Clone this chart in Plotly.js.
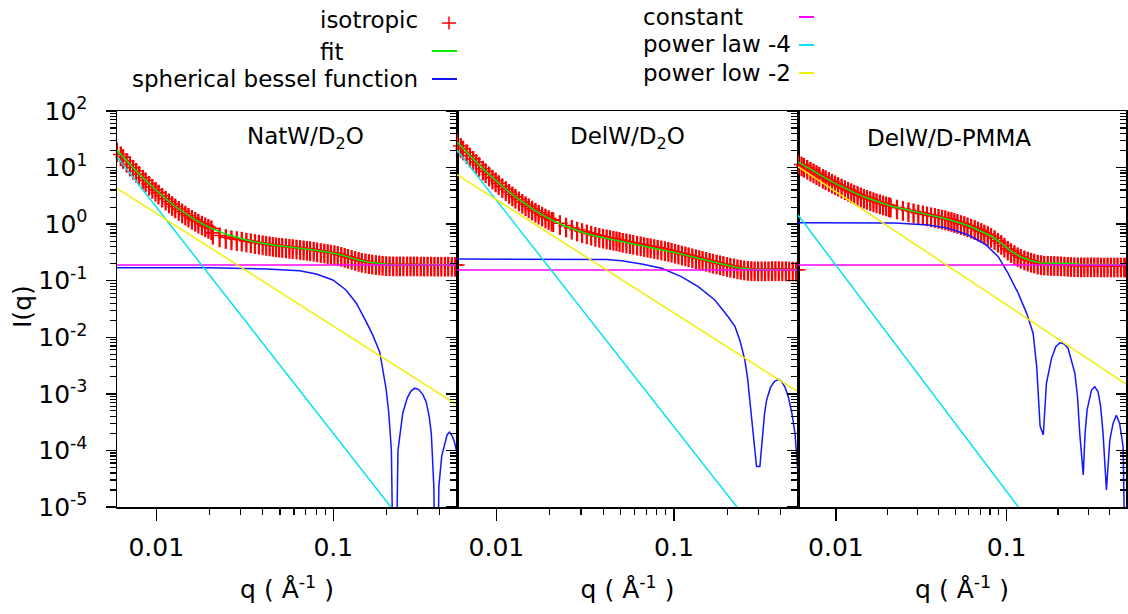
<!DOCTYPE html>
<html><head><meta charset="utf-8">
<script src="https://cdn.plot.ly/plotly-3.0.1.min.js"></script>
<style>html,body{margin:0;padding:0;background:#fff}#chart{width:1128px;height:614px}</style>
</head><body><div id="chart"></div>
<script>
// ---------------- data ----------------
const panelTitles = ['NatW/D<sub>2</sub>O', 'DelW/D<sub>2</sub>O', 'DelW/D-PMMA'];
const legendLabels = ['isotropic', 'fit', 'spherical bessel function', 'constant', 'power law -4', 'power low -2'];
const xTitle = 'q ( Å<sup>-1</sup> )';
const yTitle = 'I(q)';

// q grid of the measured (isotropic) points, shared by the three samples
const qIso = [0.0060, 0.0063, 0.0065, 0.0068, 0.0071, 0.0074, 0.0077, 0.0080, 0.0084, 0.0087, 0.0091, 0.0095, 0.0099, 0.0103, 0.0108, 0.0113, 0.0118, 0.0123, 0.0128, 0.0134, 0.0140, 0.0146, 0.0152, 0.0159, 0.0166, 0.0173, 0.0181, 0.0189, 0.0197, 0.0205,
  0.0209, 0.0228, 0.0247, 0.0266, 0.0285, 0.0304, 0.0323, 0.0342, 0.0361, 0.0380, 0.0399, 0.0418, 0.0437, 0.0456, 0.0475, 0.0494,
  0.0515, 0.0540, 0.0565, 0.0590, 0.0620, 0.0650, 0.0680, 0.0710, 0.0740, 0.0775, 0.0810, 0.0850, 0.0890, 0.0930, 0.0970, 0.1015, 0.1060, 0.1110, 0.1160, 0.1210, 0.1270, 0.1330, 0.1390, 0.1450, 0.1520, 0.1590, 0.1660, 0.1740, 0.1820, 0.1900, 0.1990, 0.2080, 0.2180, 0.2280, 0.2380, 0.2490, 0.2610, 0.2730, 0.2850, 0.2980, 0.3120, 0.3260, 0.3410, 0.3570, 0.3730, 0.3900, 0.4080, 0.4270, 0.4460, 0.4670, 0.4880, 0.5000];

const isoNatD2O = [20.2, 17.0, 15.3, 13.1, 11.3, 9.90, 8.70, 7.69, 6.59, 5.92, 5.16, 4.55, 4.03, 3.61, 3.17, 2.81, 2.51, 2.26, 2.05, 1.85, 1.67, 1.53, 1.41, 1.29, 1.19, 1.10, 1.02, 0.95, 0.89, 0.84,
  0.70, 0.63, 0.59, 0.56, 0.54, 0.53, 0.51, 0.495, 0.48, 0.468, 0.455, 0.445, 0.436, 0.428, 0.421, 0.415,
  0.409, 0.402, 0.395, 0.390, 0.384, 0.378, 0.371, 0.365, 0.359, 0.351, 0.343, 0.334, 0.327, 0.319, 0.312, 0.305, 0.296, 0.285, 0.274, 0.264, 0.252, 0.242, 0.232, 0.224, 0.218, 0.212, 0.208, 0.204, 0.201, 0.198, 0.195, 0.194, 0.193, 0.193, 0.193, 0.193, 0.193, 0.193, 0.193, 0.193, 0.192, 0.192, 0.192, 0.192, 0.191, 0.191, 0.191, 0.191, 0.191, 0.190, 0.190, 0.190];

const isoDelD2O = [28.3, 24.0, 21.6, 18.6, 16.2, 14.2, 12.5, 11.1, 9.54, 8.58, 7.52, 6.64, 5.91, 5.29, 4.66, 4.13, 3.70, 3.34, 3.03, 2.72, 2.46, 2.24, 2.06, 1.88, 1.72, 1.59, 1.47, 1.36, 1.27, 1.19,
  1.17, 1.04, 0.94, 0.86, 0.80, 0.75, 0.71, 0.675, 0.645, 0.62, 0.60, 0.58, 0.565, 0.55, 0.535, 0.522,
  0.505, 0.492, 0.478, 0.465, 0.450, 0.437, 0.425, 0.414, 0.403, 0.391, 0.382, 0.370, 0.359, 0.349, 0.338, 0.325, 0.313, 0.301, 0.290, 0.280, 0.269, 0.259, 0.250, 0.242, 0.233, 0.224, 0.216, 0.209, 0.202, 0.196, 0.189, 0.183, 0.178, 0.172, 0.168, 0.164, 0.161, 0.159, 0.158, 0.158, 0.158, 0.158, 0.158, 0.159, 0.159, 0.159, 0.158, 0.158, 0.157, 0.157, 0.156, 0.156];

const isoDelPMMA = [12.2, 11.3, 10.7, 9.85, 9.1, 8.5, 7.95, 7.45, 6.86, 6.47, 6.0, 5.6, 5.25, 4.94, 4.59, 4.29, 4.03, 3.80, 3.60, 3.39, 3.20, 3.04, 2.90, 2.76, 2.63, 2.52, 2.41, 2.31, 2.22, 2.15,
  2.10, 1.96, 1.85, 1.75, 1.67, 1.60, 1.54, 1.48, 1.43, 1.39, 1.34, 1.30, 1.26, 1.21, 1.18, 1.13,
  1.09, 1.04, 1.00, 0.947, 0.897, 0.848, 0.801, 0.754, 0.708, 0.662, 0.617, 0.562, 0.507, 0.463, 0.415, 0.366, 0.333, 0.305, 0.281, 0.263, 0.247, 0.235, 0.225, 0.217, 0.208, 0.203, 0.200, 0.199, 0.197, 0.196, 0.195, 0.194, 0.192, 0.190, 0.188, 0.187, 0.186, 0.186, 0.186, 0.186, 0.186, 0.186, 0.186, 0.185, 0.185, 0.185, 0.185, 0.185, 0.185, 0.185, 0.185, 0.185];

// fit curves
const qFit = [0.0060, 0.0068, 0.0077, 0.0087, 0.0099, 0.0113, 0.0128, 0.0146, 0.0166, 0.0189, 0.0209, 0.0247, 0.0285, 0.0323, 0.0361, 0.0418, 0.0475, 0.0540, 0.0620, 0.0710, 0.0810, 0.0930, 0.1060, 0.1210, 0.1390, 0.1590, 0.1820, 0.2080, 0.2380, 0.2730, 0.3120, 0.3570, 0.4080, 0.4670, 0.5000];
const fitNatD2O = [20.2, 13.1, 8.70, 5.92, 4.03, 2.81, 2.05, 1.53, 1.19, 0.95, 0.82, 0.667, 0.581, 0.524, 0.485, 0.446, 0.421, 0.402, 0.384, 0.365, 0.343, 0.319, 0.296, 0.264, 0.232, 0.212, 0.201, 0.194, 0.193, 0.193, 0.192, 0.192, 0.191, 0.191, 0.191];
const fitDelD2O = [28.3, 18.6, 12.5, 8.58, 5.91, 4.13, 3.03, 2.24, 1.72, 1.36, 1.15, 0.91, 0.77, 0.678, 0.617, 0.554, 0.511, 0.473, 0.433, 0.399, 0.370, 0.339, 0.305, 0.273, 0.245, 0.220, 0.199, 0.182, 0.167, 0.159, 0.158, 0.158, 0.158, 0.157, 0.156];
const fitDelPMMA = [12.6, 10.0, 8.0, 6.51, 5.25, 4.29, 3.60, 3.04, 2.63, 2.31, 2.10, 1.85, 1.67, 1.54, 1.43, 1.30, 1.18, 1.04, 0.897, 0.754, 0.617, 0.463, 0.333, 0.263, 0.225, 0.205, 0.205, 0.207, 0.201, 0.195, 0.195, 0.193, 0.192, 0.192, 0.192];

// spherical bessel function (form factor) components
const qBesNat = [0.006, 0.020, 0.0418, 0.0646, 0.0802, 0.0995, 0.118, 0.135, 0.150, 0.166, 0.183, 0.199, 0.206, 0.213, 0.222, 0.232, 0.247, 0.262, 0.275, 0.288, 0.303, 0.320, 0.335, 0.348, 0.358, 0.370, 0.382, 0.395, 0.410, 0.426, 0.440, 0.454, 0.470, 0.484, 0.500];
const besNat = [0.170, 0.170, 0.161, 0.150, 0.131, 0.103, 0.0686, 0.040, 0.0216, 0.0115, 0.0055, 0.0012, 4.5e-4, 1.0e-4, 1e-8, 1.0e-4, 4.6e-4, 8.5e-4, 1.12e-3, 1.26e-3, 1.2e-3, 9.8e-4, 7.2e-4, 4.0e-4, 2.0e-4, 2.3e-5, 1e-8, 2.3e-5, 8.0e-5, 1.35e-4, 1.9e-4, 2.1e-4, 1.8e-4, 1.4e-4, 9.0e-5];
const qBesDelD2O = [0.006, 0.030, 0.0418, 0.0507, 0.0658, 0.0853, 0.110, 0.137, 0.170, 0.202, 0.221, 0.236, 0.251, 0.260, 0.268, 0.276, 0.284, 0.292, 0.305, 0.315, 0.324, 0.333, 0.350, 0.368, 0.388, 0.405, 0.423, 0.441, 0.462, 0.481, 0.492, 0.500];
const besDelD2O = [0.242, 0.242, 0.236, 0.226, 0.197, 0.166, 0.118, 0.0783, 0.0456, 0.0231, 0.0154, 0.0085, 0.00396, 0.0019, 7.8e-4, 3.5e-4, 1.53e-4, 5.2e-5, 5.2e-5, 2.0e-4, 4.5e-4, 7.8e-4, 1.3e-3, 1.65e-3, 1.8e-3, 1.65e-3, 1.3e-3, 8.9e-4, 4.5e-4, 2.0e-4, 9.0e-5, 3.9e-5];
const qBesDelPMMA = [0.006, 0.0222, 0.0348, 0.0455, 0.0596, 0.0746, 0.0893, 0.102, 0.117, 0.131, 0.143, 0.150, 0.157, 0.164, 0.171, 0.183, 0.194, 0.205, 0.217, 0.229, 0.251, 0.260, 0.268, 0.281, 0.288, 0.296, 0.314, 0.328, 0.343, 0.355, 0.367, 0.384, 0.402, 0.420, 0.439, 0.459, 0.481, 0.490, 0.500];
const besDelPMMA = [1.06, 1.05, 0.966, 0.844, 0.643, 0.446, 0.266, 0.135, 0.0598, 0.0265, 0.0117, 0.003, 2.7e-4, 1.87e-4, 1.54e-3, 4.2e-3, 6.8e-3, 8.0e-3, 7.6e-3, 6.4e-3, 2.3e-3, 9.0e-4, 2.0e-4, 3.7e-5, 2.0e-4, 5.2e-4, 1.17e-3, 1.34e-3, 1.09e-3, 6.0e-4, 2.0e-4, 2.0e-5, 1.53e-4, 3.0e-4, 4.2e-4, 3.0e-4, 1.16e-4, 5e-6, 1e-7];

// straight components (two end points each)
const qLine = [0.006, 0.5];
const constNat = [0.19, 0.19], constDelD2O = [0.155, 0.155], constDelPMMA = [0.19, 0.19];
const pow4Nat = [15.5, 3.2e-7], pow4DelD2O = [20.4, 4.2e-7], pow4DelPMMA = [1.45, 3.0e-8];
const pow2Nat = [4.29, 6.4e-4], pow2DelD2O = [7.49, 1.08e-3], pow2DelPMMA = [10.4, 1.49e-3];

// ticks
const xTickVals = [0.01, 0.1];
const xTickText = ['0.01', '0.1'];
const xMinorVals = [0.02, 0.03, 0.04, 0.05, 0.06, 0.07, 0.08, 0.09, 0.2, 0.3, 0.4];
const yTickVals = [1e-5, 1e-4, 1e-3, 1e-2, 1e-1, 1, 10, 100];
const yTickText = ['10<sup>-5</sup>', '10<sup>-4</sup>', '10<sup>-3</sup>', '10<sup>-2</sup>', '10<sup>-1</sup>', '10<sup>0</sup>', '10<sup>1</sup>', '10<sup>2</sup>'];
const yMinorVals = [2e-5, 3e-5, 4e-5, 5e-5, 6e-5, 7e-5, 8e-5, 9e-5,
  2e-4, 3e-4, 4e-4, 5e-4, 6e-4, 7e-4, 8e-4, 9e-4,
  2e-3, 3e-3, 4e-3, 5e-3, 6e-3, 7e-3, 8e-3, 9e-3,
  0.02, 0.03, 0.04, 0.05, 0.06, 0.07, 0.08, 0.09,
  0.2, 0.3, 0.4, 0.5, 0.6, 0.7, 0.8, 0.9,
  2, 3, 4, 5, 6, 7, 8, 9,
  20, 30, 40, 50, 60, 70, 80, 90];

// ---------------- drawing ----------------
const FONT = 'DejaVu Sans, Arial, sans-serif';
const C = {iso: '#ff0000', fit: '#00ee00', bes: '#1515ff', cst: '#ff00ff', p4: '#00e5ee', p2: '#f0f000'};
const W = 1128, H = 614, ML = 117, MR = 2, MT = 111, MB = 107;
const PW = W - ML - MR, PH = H - MT - MB;
const fx = p => (p - ML) / PW;
const fy = p => (H - MB - p) / PH;

const panels = [
  {iso: isoNatD2O, fit: fitNatD2O, qb: qBesNat, bes: besNat, cst: constNat, p4: pow4Nat, p2: pow2Nat},
  {iso: isoDelD2O, fit: fitDelD2O, qb: qBesDelD2O, bes: besDelD2O, cst: constDelD2O, p4: pow4DelD2O, p2: pow2DelD2O},
  {iso: isoDelPMMA, fit: fitDelPMMA, qb: qBesDelPMMA, bes: besDelPMMA, cst: constDelPMMA, p4: pow4DelPMMA, p2: pow2DelPMMA}
];

const traces = [];
panels.forEach((p, i) => {
  const xa = i === 0 ? 'x' : 'x' + (i + 1);
  const ya = i === 0 ? 'y' : 'y' + (i + 1);
  const base = {xaxis: xa, yaxis: ya, showlegend: false, hoverinfo: 'skip'};
  traces.push(Object.assign({}, base, {
    name: legendLabels[0], x: qIso, y: p.iso, mode: 'markers', cliponaxis: false,
    marker: {symbol: 'cross-thin', size: 11, color: C.iso, line: {width: 1.6, color: C.iso}},
    error_y: {type: 'percent', value: 38, visible: true, color: C.iso, thickness: 2.2, width: 0}
  }));
  traces.push(Object.assign({}, base, {name: legendLabels[1], x: qFit, y: p.fit, mode: 'lines', line: {color: C.fit, width: 1.5}}));
  traces.push(Object.assign({}, base, {name: legendLabels[2], x: p.qb, y: p.bes, mode: 'lines', line: {color: C.bes, width: 1.5}}));
  traces.push(Object.assign({}, base, {name: legendLabels[3], x: qLine, y: p.cst, mode: 'lines', line: {color: C.cst, width: 1.5}}));
  traces.push(Object.assign({}, base, {name: legendLabels[4], x: qLine, y: p.p4, mode: 'lines', line: {color: C.p4, width: 1.5}}));
  traces.push(Object.assign({}, base, {name: legendLabels[5], x: qLine, y: p.p2, mode: 'lines', line: {color: C.p2, width: 1.5}}));
});
// empty trace that carries the right-hand tick axis of the last panel
traces.push({x: [], y: [], xaxis: 'x3', yaxis: 'y4', showlegend: false, hoverinfo: 'skip', mode: 'lines'});

const bounds = [117, 457, 798, 1126];
function xAxis(i) {
  return {
    type: 'log', domain: [fx(bounds[i]), Math.min(1, fx(bounds[i + 1]))], range: [-2.2218, -0.3010],
    anchor: i === 0 ? 'y' : 'y' + (i + 1),
    showline: true, linecolor: 'black', linewidth: 1.5, mirror: true,
    ticks: 'outside', ticklen: 12, tickwidth: 1.5, tickcolor: 'black',
    tickmode: 'array', tickvals: xTickVals, ticktext: xTickText,
    tickfont: {family: FONT, size: 25, color: 'black'}, ticklabelstandoff: 5,
    minor: {tickmode: 'array', tickvals: xMinorVals, ticks: 'outside', ticklen: 6, tickwidth: 1.2, tickcolor: 'black', showgrid: false},
    showgrid: false, zeroline: false, automargin: false,
    title: {text: xTitle, font: {family: FONT, size: 25, color: 'black'}, standoff: 20}
  };
}
function yAxis(i) {
  const ax = {
    type: 'log', domain: [0, 1], range: [-5, 2], anchor: i === 0 ? 'x' : 'x' + (i + 1),
    showline: true, linecolor: 'black', linewidth: 1.5, mirror: true,
    ticks: 'outside', ticklen: 10, tickwidth: 1.5, tickcolor: 'black',
    tickmode: 'array', tickvals: yTickVals, showticklabels: i === 0,
    minor: {tickmode: 'array', tickvals: yMinorVals, ticks: 'outside', ticklen: 6, tickwidth: 1.2, tickcolor: 'black', showgrid: false},
    showgrid: false, zeroline: false, automargin: false
  };
  if (i === 0) {
    ax.ticktext = yTickText;
    ax.tickfont = {family: FONT, size: 25, color: 'black'};
    ax.ticklabelstandoff = 13;
  }
  return ax;
}

const annotations = [];
const titleX = [305, 627, 949];
panelTitles.forEach((t, i) => annotations.push({xref: 'paper', yref: 'paper', x: fx(titleX[i]), y: fy(138), text: t, showarrow: false, xanchor: 'center', yanchor: 'middle', font: {family: FONT, size: 23, color: 'black'}}));
const legPos = [[318, 19.5], [318, 52], [130, 78.5], [641, 17.5], [641, 44], [641, 73]];
legendLabels.forEach((t, i) => annotations.push({xref: 'paper', yref: 'paper', x: fx(legPos[i][0]), y: fy(legPos[i][1]), text: t, showarrow: false, xanchor: 'left', yanchor: 'middle', font: {family: FONT, size: 23, color: 'black'}}));
annotations.push({xref: 'paper', yref: 'paper', x: fx(22), y: fy(307), text: yTitle, textangle: -90, showarrow: false, xanchor: 'center', yanchor: 'middle', font: {family: FONT, size: 25, color: 'black'}});

function seg(x0, y0, x1, y1, color, w) {
  return {type: 'line', xref: 'paper', yref: 'paper', x0: fx(x0), y0: fy(y0), x1: fx(x1), y1: fy(y1), line: {color: color, width: w}};
}
const shapes = [
  seg(442, 23, 456, 23, C.iso, 1.5), seg(449, 16.5, 449, 29.5, C.iso, 1.5),
  seg(432, 51, 457, 51, C.fit, 2), seg(432, 79, 457, 79, C.bes, 2),
  seg(799, 17, 814, 17, C.cst, 2), seg(799, 45, 814, 45, C.p4, 2), seg(799, 73, 814, 73, C.p2, 2)
];

const layout = {
  width: W, height: H, margin: {l: ML, r: MR, t: MT, b: MB, pad: 0},
  paper_bgcolor: 'white', plot_bgcolor: 'white', showlegend: false,
  font: {family: FONT, color: 'black'},
  xaxis: xAxis(0), xaxis2: xAxis(1), xaxis3: xAxis(2),
  yaxis: yAxis(0), yaxis2: yAxis(1), yaxis3: yAxis(2),
  yaxis4: {type: 'log', range: [-5, 2], overlaying: 'y3', anchor: 'x3', side: 'right', showline: false,
    ticks: 'inside', ticklen: 10, tickwidth: 1.5, tickcolor: 'black', tickmode: 'array', tickvals: yTickVals,
    showticklabels: false, showgrid: false, zeroline: false,
    minor: {tickmode: 'array', tickvals: yMinorVals, ticks: 'inside', ticklen: 6, tickwidth: 1.2, tickcolor: 'black', showgrid: false}},
  annotations: annotations, shapes: shapes
};

Plotly.newPlot('chart', traces, layout, {displayModeBar: false, staticPlot: true});
</script></body></html>
